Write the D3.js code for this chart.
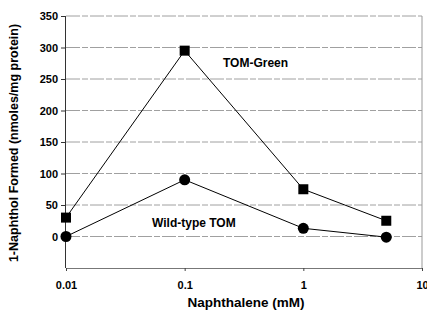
<!DOCTYPE html>
<html><head><meta charset="utf-8">
<script src="https://cdn.jsdelivr.net/npm/d3@7"></script>
<style>body{margin:0;background:#fff}svg{display:block}text{font-family:Arial,"Liberation Sans",sans-serif;font-weight:bold;fill:#000}</style>
</head><body>
<svg id="c" width="427" height="314"></svg>
<script>
const concentrations = [0.01, 0.1, 1, 5];
const tomGreen = [30, 295, 75, 25];
const wildType = [0, 90, 13, -1];
const xTicks = [0.01, 0.1, 1, 10];
const xTickLabels = ["0.01", "0.1", "1", "10"];
const yTicks = [0, 50, 100, 150, 200, 250, 300, 350];
const seriesNames = ["TOM-Green", "Wild-type TOM"];

const svg = d3.select("#c");
const L = 66, R = 422, T = 16, B = 268;
const x = d3.scaleLog().domain([0.01, 10]).range([L, R]);
const y = d3.scaleLinear().domain([-50, 350]).range([B, T]);

// gridlines
svg.append("g").selectAll("line").data(yTicks).join("line")
  .attr("x1", L).attr("x2", R).attr("y1", d => y(d)).attr("y2", d => y(d))
  .attr("stroke", "#a0a0a0").attr("stroke-width", 1).attr("stroke-dasharray", "14,2,6,2");

// right frame
svg.append("line").attr("x1", R).attr("x2", R).attr("y1", T).attr("y2", B)
  .attr("stroke", "#999").attr("stroke-width", 1);
// bottom axis
const xa = svg.append("g").attr("transform", `translate(0,${B})`)
  .call(d3.axisBottom(x).tickValues(xTicks).tickFormat((d,i) => xTickLabels[i]).tickSize(3).tickPadding(10));
xa.select(".domain").attr("stroke", "#777");
xa.selectAll(".tick line").attr("stroke", "#444");
xa.selectAll("text").attr("font-size", 11).attr("font-family", "Arial, Liberation Sans, sans-serif").attr("font-weight", "bold");

// left axis
const ya = svg.append("g").attr("transform", `translate(${L},0)`)
  .call(d3.axisLeft(y).tickValues(yTicks).tickSize(5).tickPadding(3));
ya.select(".domain").attr("stroke", "#333").attr("d", `M-0.5,${T}V${B}`);
ya.selectAll(".tick line").attr("stroke", "#333");
ya.selectAll("text").attr("font-size", 11).attr("font-family", "Arial, Liberation Sans, sans-serif").attr("font-weight", "bold");

const line = d3.line().x((d,i) => x(concentrations[i])).y(d => y(d));
[tomGreen, wildType].forEach(s => {
  svg.append("path").attr("d", line(s)).attr("fill", "none").attr("stroke", "#000").attr("stroke-width", 1);
});
svg.append("g").selectAll("rect").data(tomGreen).join("rect")
  .attr("x", (d,i) => x(concentrations[i]) - 5).attr("y", d => y(d) - 5)
  .attr("width", 10).attr("height", 10).attr("fill", "#000");
svg.append("g").selectAll("circle").data(wildType).join("circle")
  .attr("cx", (d,i) => x(concentrations[i])).attr("cy", d => y(d)).attr("r", 5.5).attr("fill", "#000");

svg.append("text").attr("x", 223).attr("y", 67).attr("font-size", 12).text(seriesNames[0]);
svg.append("text").attr("x", 152).attr("y", 227).attr("font-size", 12).text(seriesNames[1]);

svg.append("text").attr("transform", "translate(18,143) rotate(-90)").attr("text-anchor", "middle")
  .attr("font-size", 12.5).text("1-Naphthol Formed (nmoles/mg protein)");
svg.append("text").attr("x", 246).attr("y", 307).attr("text-anchor", "middle")
  .attr("font-size", 13.5).text("Naphthalene (mM)");
</script>
</body></html>
